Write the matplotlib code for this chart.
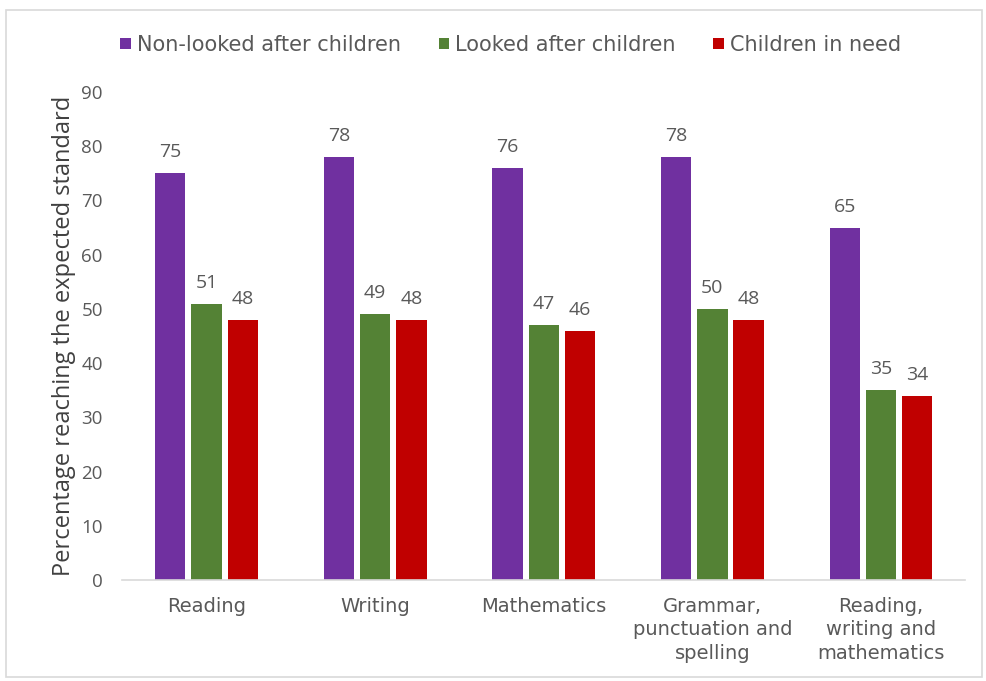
import matplotlib.pyplot as plt
import numpy as np
from matplotlib.patches import Rectangle

# Data
categories = ['Reading', 'Writing', 'Mathematics',
              'Grammar,\npunctuation and\nspelling',
              'Reading,\nwriting and\nmathematics']
non_looked_after = [75, 78, 76, 78, 65]
looked_after = [51, 49, 47, 50, 35]
children_in_need = [48, 48, 46, 48, 34]
series_names = ['Non-looked after children', 'Looked after children', 'Children in need']
colors = ['#7030A0', '#548235', '#C00000']

plt.rcParams['font.family'] = ['DejaVu Sans']
text_color = '#595959'

fig = plt.figure(figsize=(9.86, 6.81), dpi=100)
ax = fig.add_axes([0.124, 0.148, 0.855, 0.717])

# light frame round the whole chart
fig.patches.append(Rectangle((0.006, 0.006), 0.99, 0.98, transform=fig.transFigure,
                             fill=False, edgecolor='#D9D9D9', linewidth=1.2))

x = np.arange(len(categories))
width = 0.18
step = 0.215
all_series = [non_looked_after, looked_after, children_in_need]
for i, (vals, name, col) in enumerate(zip(all_series, series_names, colors)):
    bars = ax.bar(x + (i - 1) * step, vals, width, color=col, label=name)
    for b, v in zip(bars, vals):
        ax.text(b.get_x() + b.get_width() / 2, v + 2.2, str(v), ha='center', va='bottom',
                fontsize=14, color=text_color, family='Open Sans')

ax.set_xlim(-0.5, len(categories) - 0.5)
ax.set_ylim(0, 90)
ax.set_yticks(range(0, 91, 10))
ax.set_xticks(x)
ax.set_xticklabels(categories, fontsize=14, color=text_color, linespacing=1.3)
ax.tick_params(axis='y', labelsize=13.5, labelcolor=text_color, length=0, pad=14)
ax.tick_params(axis='x', length=0, pad=12)
for lbl in ax.get_yticklabels():
    lbl.set_family('Open Sans')
ax.set_ylabel('Percentage reaching the expected standard', fontsize=17, color='#404040',
              labelpad=4, family='Open Sans')

for s in ['top', 'right', 'left']:
    ax.spines[s].set_visible(False)
ax.spines['bottom'].set_color('#D9D9D9')
ax.spines['bottom'].set_linewidth(1.2)

fig.legend(loc='center', bbox_to_anchor=(0.518, 0.934), ncol=3, frameon=False,
           fontsize=15, labelcolor=text_color, handlelength=0.5, handleheight=0.5,
           handletextpad=0.3, columnspacing=1.8)

fig.savefig('out.png', dpi=100)
